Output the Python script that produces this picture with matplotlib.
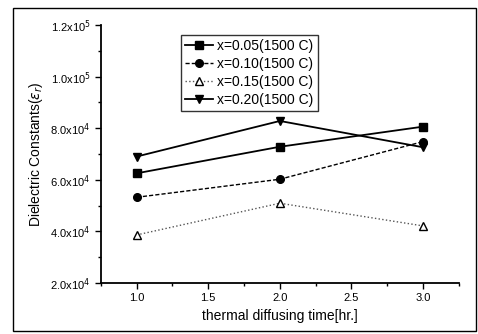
import matplotlib
matplotlib.use("Agg")
import matplotlib.pyplot as plt
from matplotlib.patches import Rectangle
from matplotlib.ticker import MultipleLocator, FuncFormatter

plt.rcParams['font.family'] = ['Liberation Sans', 'DejaVu Sans']

hours = [1.0, 2.0, 3.0]
x005 = [62500, 72800, 80600]
x010 = [53200, 60200, 74800]
x015 = [38600, 50900, 42100]
x020 = [69000, 82800, 72600]
labels = ["x=0.05(1500 C)", "x=0.10(1500 C)", "x=0.15(1500 C)", "x=0.20(1500 C)"]


def sci_fmt(v, pos):
    exp = 4 if v < 1e5 else 5
    return r"%.1fx10$^{%d}$" % (v / 10 ** exp, exp)


def main():
    fig = plt.figure(figsize=(4.78, 3.34), dpi=100)
    ax = fig.add_axes([0.211, 0.153, 0.749, 0.772])

    ax.plot(hours, x005, '-', color='black', lw=1.3, marker='s', ms=5.5, label=labels[0])
    ax.plot(hours, x010, '--', color='black', lw=1.0, dashes=(3, 1.5), marker='o', ms=5.5, label=labels[1])
    ax.plot(hours, x015, ':', color='#555555', lw=1.0, marker='^', ms=5.5, mfc='white', mec='black', label=labels[2])
    ax.plot(hours, x020, '-', color='black', lw=1.3, marker='v', ms=5.5, label=labels[3])

    ax.set_xlim(0.75, 3.25)
    ax.set_ylim(2e4, 1.2e5)
    ax.xaxis.set_major_locator(MultipleLocator(0.5))
    ax.xaxis.set_minor_locator(MultipleLocator(0.25))
    ax.yaxis.set_major_locator(MultipleLocator(2e4))
    ax.yaxis.set_minor_locator(MultipleLocator(1e4))
    ax.yaxis.set_major_formatter(FuncFormatter(sci_fmt))
    ax.tick_params(which='major', direction='out', length=4, width=1, labelsize=8)
    ax.tick_params(which='minor', direction='out', length=2, width=1)

    ax.spines['top'].set_visible(False)
    ax.spines['right'].set_visible(False)
    ax.spines['left'].set_linewidth(1.3)
    ax.spines['bottom'].set_linewidth(1.3)

    ax.set_xlabel("thermal diffusing time[hr.]", fontsize=10)
    ax.set_ylabel(r"Dielectric Constants($\epsilon_r$)", fontsize=10)

    leg = ax.legend(loc='upper left', bbox_to_anchor=(0.205, 0.99), fontsize=10,
                    frameon=True, fancybox=False, edgecolor='black',
                    handlelength=2.0, handletextpad=0.3, borderpad=0.3,
                    labelspacing=0.3)
    leg.get_frame().set_linewidth(1.0)

    fig.patches.append(Rectangle((0.028, 0.008), 0.968, 0.968, transform=fig.transFigure,
                                 fill=False, edgecolor='black', lw=1.0))

    fig.savefig("out.png", dpi=100)


if __name__ == "__main__":
    main()
